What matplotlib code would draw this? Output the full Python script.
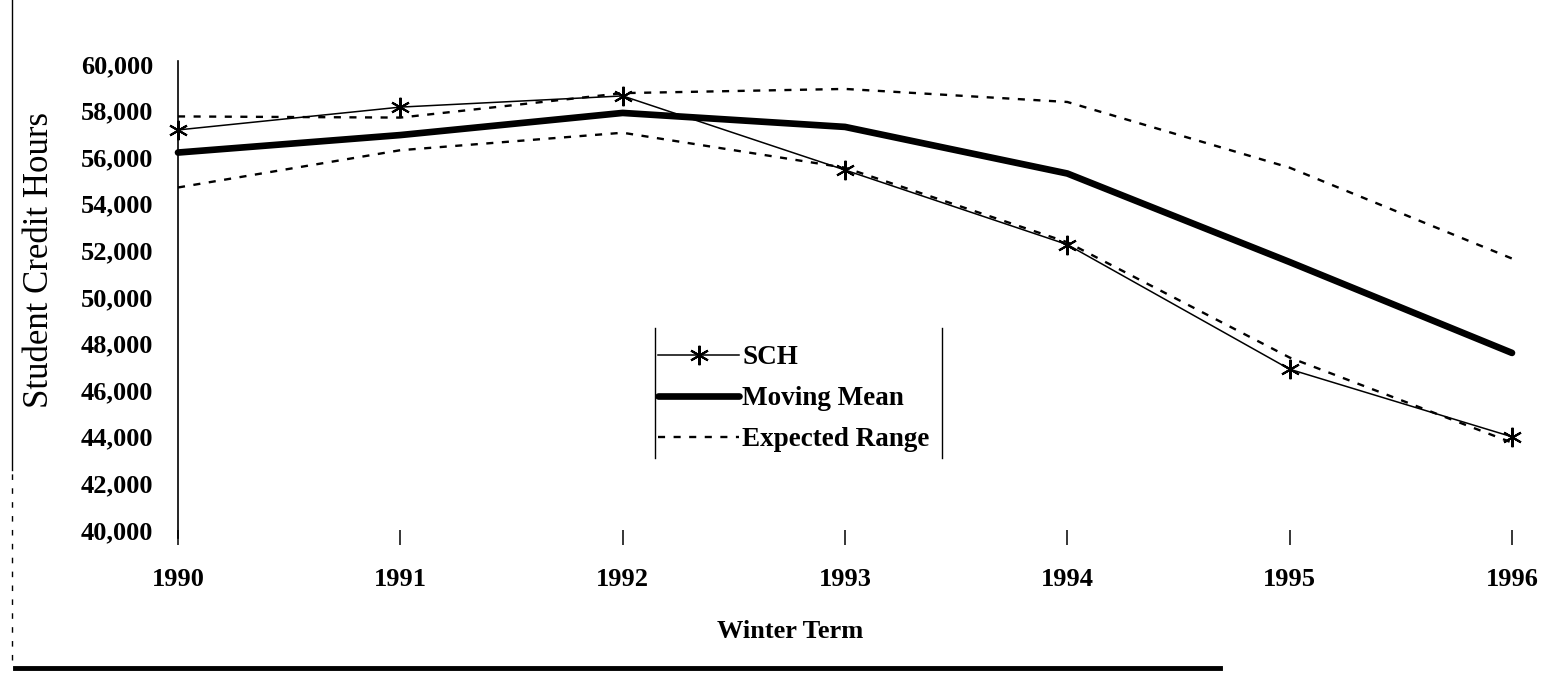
import matplotlib
matplotlib.use("Agg")
from matplotlib import pyplot as plt
from matplotlib.lines import Line2D
from matplotlib.ticker import FuncFormatter

years = [1990, 1991, 1992, 1993, 1994, 1995, 1996]
sch = [57170, 58150, 58630, 55450, 52250, 46900, 44000]
moving_mean = [56200, 56950, 57900, 57300, 55300, 51500, 47600]
range_upper = [57750, 57700, 58750, 58930, 58370, 55550, 51650]
range_lower = [54700, 56300, 57050, 55550, 52350, 47400, 43750]
y_ticks = list(range(40000, 60001, 2000))


def main():
    plt.rcParams['font.family'] = ['Liberation Serif', 'DejaVu Serif']

    fig = plt.figure(figsize=(15.47, 6.75), dpi=100)
    ax = fig.add_axes([178 / 1547, 1 - 530 / 675, (1512 - 178) / 1547, (530 - 64) / 675])

    ax.plot(years, sch, color='black', lw=1.1, marker=(6, 2, 0), markersize=14,
            markeredgewidth=1.5, label='SCH', clip_on=False, zorder=4)
    ax.plot(years, moving_mean, color='black', lw=4.8, solid_capstyle='round',
            label='Moving Mean', clip_on=False, zorder=3)
    ax.plot(years, range_upper, color='black', lw=1.7, dashes=(3.0, 3.6),
            label='Expected Range', clip_on=False)
    ax.plot(years, range_lower, color='black', lw=1.7, dashes=(3.0, 3.6), clip_on=False)

    ax.set_xlim(1990, 1996)
    ax.set_ylim(40000, 60000)
    ax.set_xticks(years)
    ax.set_yticks(y_ticks)
    ax.yaxis.set_major_formatter(FuncFormatter(lambda v, p: f"{int(v):,}"))

    for side in ['top', 'right', 'bottom']:
        ax.spines[side].set_visible(False)
    ax.spines['left'].set_linewidth(1.2)
    ax.spines['left'].set_bounds(39650, 60150)

    ax.tick_params(axis='y', length=0, pad=18, labelsize=19)
    ax.tick_params(axis='x', direction='out', length=11, width=1.1, pad=16, labelsize=19)
    for lab in ax.get_xticklabels() + ax.get_yticklabels():
        lab.set_fontweight('bold')

    ax.set_xlabel('Winter Term', fontsize=19, fontweight='bold')
    ax.xaxis.set_label_coords((790 - 178) / 1334, (530 - 620) / 466)
    ax.set_ylabel('Student Credit Hours', fontsize=25)
    ax.yaxis.set_label_coords((56 - 178) / 1334, (530 - 260) / 466)

    leg = ax.legend(loc='upper left', bbox_to_anchor=(658 / 1547, 1 - 345 / 675),
                    bbox_transform=fig.transFigure, frameon=False, fontsize=19.5,
                    handlelength=3.0, handletextpad=0.12, labelspacing=0.6,
                    borderaxespad=0, borderpad=0)
    for t in leg.get_texts():
        t.set_fontweight('bold')

    # legend side rules
    for xp in [655, 942]:
        fig.add_artist(Line2D([xp / 1547, xp / 1547], [1 - 458 / 675, 1 - 328 / 675],
                              color='black', lw=1.0))

    # page border remnants
    fig.add_artist(Line2D([12 / 1547, 12 / 1547], [1 - 470 / 675, 1.0], color='black', lw=1.0))
    fig.add_artist(Line2D([12 / 1547, 12 / 1547], [1 - 660 / 675, 1 - 470 / 675],
                          color='black', lw=1.0, dashes=(4, 6)))
    fig.add_artist(Line2D([15 / 1547, 1220 / 1547], [1 - 668 / 675, 1 - 668 / 675],
                          color='black', lw=3.5))

    plt.savefig('out.png', dpi=100)
    plt.close()


if __name__ == "__main__":
    main()
